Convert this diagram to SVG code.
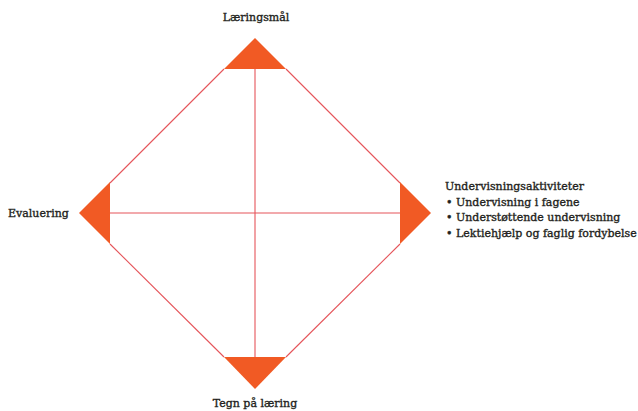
<svg xmlns="http://www.w3.org/2000/svg" width="638" height="411" viewBox="0 0 638 411">
<style>
.tri{fill:#F15A24;}
.ln{stroke:#E5545A;stroke-width:1.1;fill:none;}
.t{font-family:"DejaVu Serif","Liberation Serif",serif;font-size:11px;fill:#231F20;stroke:#231F20;stroke-width:0.35;}
</style>
<rect width="638" height="411" fill="#ffffff"/>
<g id="connectors">
<path class="ln" d="M224 69 L110 183"/>
<path class="ln" d="M286 69 L400 183"/>
<path class="ln" d="M110 244 L224 357"/>
<path class="ln" d="M400 244 L286 357"/>
<path class="ln" d="M255 69 L255 357"/>
<path class="ln" d="M110 213 L400 213"/>
</g>
<g id="laeringsmaal">
<polygon class="tri" points="255,38 286,69 224,69"/>
<text class="t" x="256" y="21" text-anchor="middle">Læringsmål</text>
</g>
<g id="evaluering">
<polygon class="tri" points="79,213 110,182 110,244"/>
<text class="t" x="8" y="217">Evaluering</text>
</g>
<g id="undervisningsaktiviteter">
<polygon class="tri" points="431,213 400,182 400,244"/>
<text class="t" x="445" y="190">Undervisningsaktiviteter</text>
<text class="t" x="446" y="205.5">•  Undervisning i fagene</text>
<text class="t" x="446" y="221">•  Understøttende undervisning</text>
<text class="t" x="446" y="236.5">•  Lektiehjælp og faglig fordybelse</text>
</g>
<g id="tegn">
<polygon class="tri" points="224,357 286,357 255,389"/>
<text class="t" x="255" y="407" text-anchor="middle">Tegn på læring</text>
</g>
</svg>
